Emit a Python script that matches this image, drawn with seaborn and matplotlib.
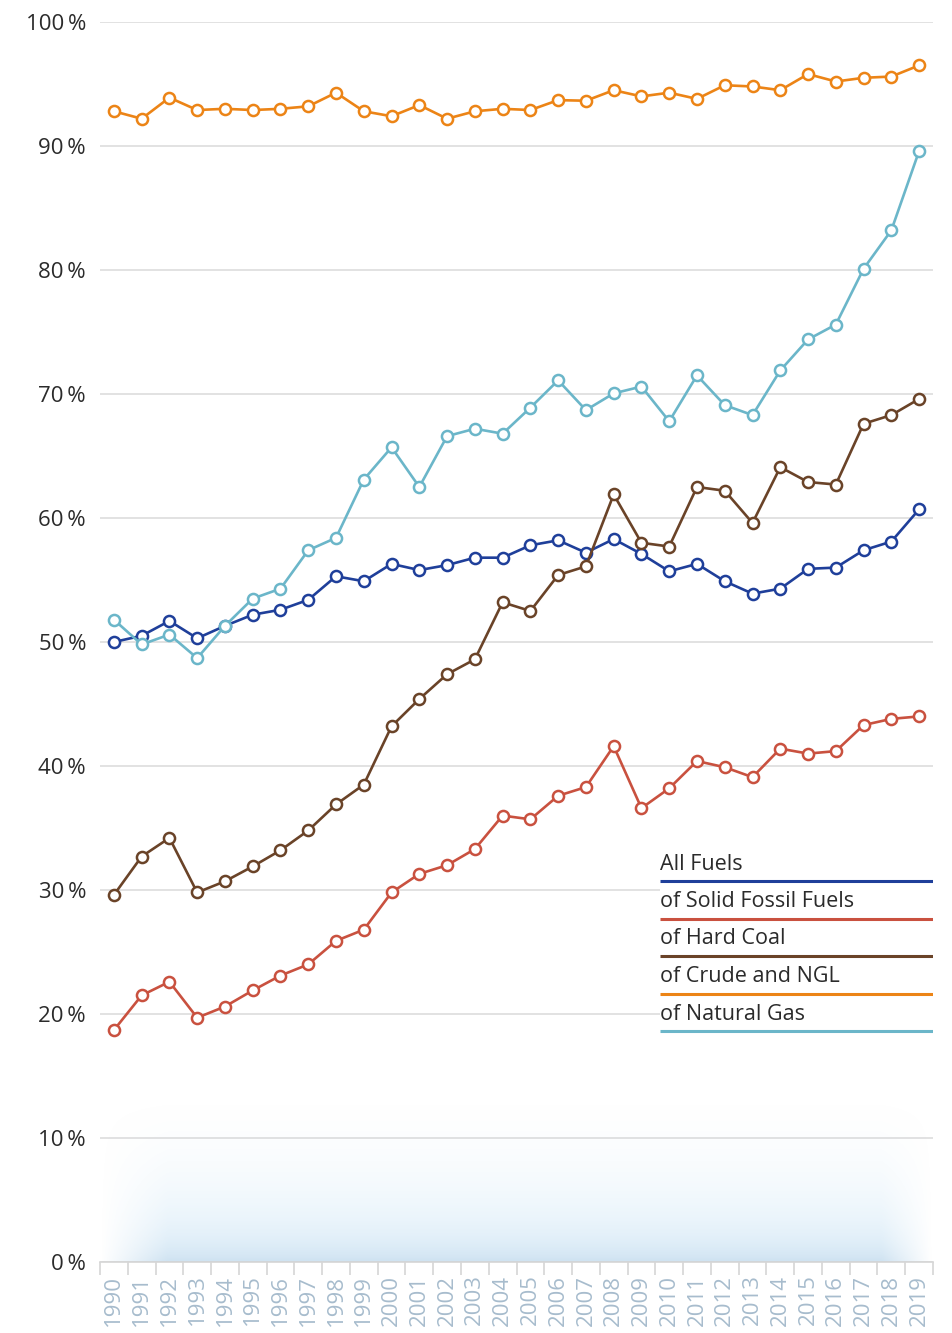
import numpy as np
import pandas as pd
import seaborn as sns
import matplotlib.pyplot as plt
from matplotlib.patches import Rectangle

# values (percent)
years = [str(y) for y in range(1990, 2020)]

all_fuels = [50.0, 50.5, 51.7, 50.3, 51.3, 52.2, 52.6, 53.4, 55.3, 54.9,
             56.3, 55.8, 56.2, 56.8, 56.8, 57.8, 58.2, 57.2, 58.3, 57.1,
             55.7, 56.3, 54.9, 53.9, 54.3, 55.9, 56.0, 57.4, 58.1, 60.7]
solid_fossil = [18.7, 21.5, 22.6, 19.7, 20.6, 21.9, 23.1, 24.0, 25.9, 26.8,
                29.8, 31.3, 32.0, 33.3, 36.0, 35.7, 37.6, 38.3, 41.6, 36.6,
                38.2, 40.4, 39.9, 39.1, 41.4, 41.0, 41.2, 43.3, 43.8, 44.0]
hard_coal = [29.6, 32.7, 34.2, 29.8, 30.7, 31.9, 33.2, 34.8, 36.9, 38.5,
             43.2, 45.4, 47.4, 48.6, 53.2, 52.5, 55.4, 56.1, 61.9, 58.0,
             57.7, 62.5, 62.2, 59.6, 64.1, 62.9, 62.7, 67.6, 68.3, 69.6]
crude_ngl = [92.8, 92.2, 93.9, 92.9, 93.0, 92.9, 93.0, 93.2, 94.3, 92.8,
             92.4, 93.3, 92.2, 92.8, 93.0, 92.9, 93.7, 93.65, 94.5, 94.0,
             94.3, 93.8, 94.9, 94.8, 94.5, 95.8, 95.2, 95.5, 95.6, 96.5]
natural_gas = [51.8, 49.8, 50.6, 48.7, 51.3, 53.5, 54.3, 57.4, 58.4, 63.1,
               65.7, 62.5, 66.6, 67.2, 66.8, 68.9, 71.1, 68.7, 70.05, 70.6,
               67.8, 71.5, 69.1, 68.3, 71.9, 74.4, 75.6, 80.1, 83.2, 89.6]

series_names = ["All Fuels", "of Solid Fossil Fuels", "of Hard Coal",
                "of Crude and NGL", "of Natural Gas"]
series_values = [all_fuels, solid_fossil, hard_coal, crude_ngl, natural_gas]
colors = ["#1f3f9a", "#c9513f", "#6a4328", "#ec8416", "#6bb6c9"]

sns.set_theme(style="white")
plt.rcParams['font.family'] = ['Open Sans', 'DejaVu Sans']

fig = plt.figure(figsize=(9.52, 13.33), dpi=100)
ax = fig.add_axes([100 / 952, 1 - 1262 / 1333, 833 / 952, 1240 / 1333])

x = np.arange(len(years))

# soft blue haze along the bottom of the plot, fading upward and at the sides
ny, nx = 120, 300
vy = np.linspace(1, 0, ny).reshape(-1, 1)          # row 0 = bottom (origin lower)
hx = np.linspace(0, 1, nx).reshape(1, -1)
side = np.clip(hx / 0.08, 0, 1) * np.clip((1 - hx) / 0.06, 0, 1)
alpha = (vy ** 2.0) * side * 0.45
haze = np.zeros((ny, nx, 4))
haze[..., 0] = 0.70 - 0.12 * vy ** 8
haze[..., 1] = 0.85 - 0.10 * vy ** 8
haze[..., 2] = 0.95 - 0.07 * vy ** 8
haze[..., 3] = alpha
ax.imshow(haze, aspect="auto", extent=(-0.5, 29.5, 0, 14),
          origin="lower", zorder=0.6, interpolation="bicubic")

draw_order = [3, 4, 0, 2, 1]
for i in draw_order:
    sns.lineplot(x=x, y=series_values[i], ax=ax, color=colors[i], linewidth=1.9,
                 marker="o", markersize=8, markerfacecolor="white",
                 markeredgecolor=colors[i], markeredgewidth=1.8, zorder=3 + i)

ax.set_xlim(-0.5, len(years) - 0.5)
ax.set_ylim(0, 100)

ax.set_yticks(np.arange(0, 101, 10))
ax.set_yticklabels([f"{v}\u2009%" for v in range(0, 101, 10)],
                   fontsize=16, color="#2b2b2b")
ax.yaxis.grid(True, color="#e2e2e2", linewidth=1.4, zorder=0.5)
ax.xaxis.grid(False)
ax.set_axisbelow(True)

ax.set_xticks(x)
ax.set_xticklabels(years, rotation=90, fontsize=16, color="#a7bccd")
ax.set_xticks(np.arange(-0.5, len(years), 1), minor=True)
ax.tick_params(axis="x", which="major", length=0, pad=9)
ax.tick_params(axis="x", which="minor", length=9, width=1.2, color="#d6d6d6", bottom=True)
ax.tick_params(axis="y", length=0, pad=10)

for side_name in ["left", "right", "top"]:
    ax.spines[side_name].set_visible(False)
ax.spines["bottom"].set_color("#d6d6d6")
ax.spines["bottom"].set_linewidth(1.2)
ax.set_xlabel("")
ax.set_ylabel("")

# custom legend block: text with a coloured rule under each label
leg_left = (660 - 100) / 833
leg_right = 1.0
ax.add_patch(Rectangle((leg_left, (1262 - 1040) / 1240), leg_right - leg_left,
                       (1040 - 848) / 1240, transform=ax.transAxes,
                       facecolor="white", edgecolor="none", zorder=2))
row_top = 864
for k, (name, c) in enumerate(zip(series_names, colors)):
    ty = row_top + k * 37.5
    ax.text(leg_left, (1262 - ty) / 1240, name, transform=ax.transAxes,
            fontsize=15.5, color="#2b2b2b", va="center", ha="left", zorder=10)
    ly = (1262 - (ty + 17)) / 1240
    ax.plot([leg_left, leg_right], [ly, ly], transform=ax.transAxes,
            color=c, linewidth=2.2, zorder=10, solid_capstyle="butt")

fig.savefig("out.png", dpi=100)
